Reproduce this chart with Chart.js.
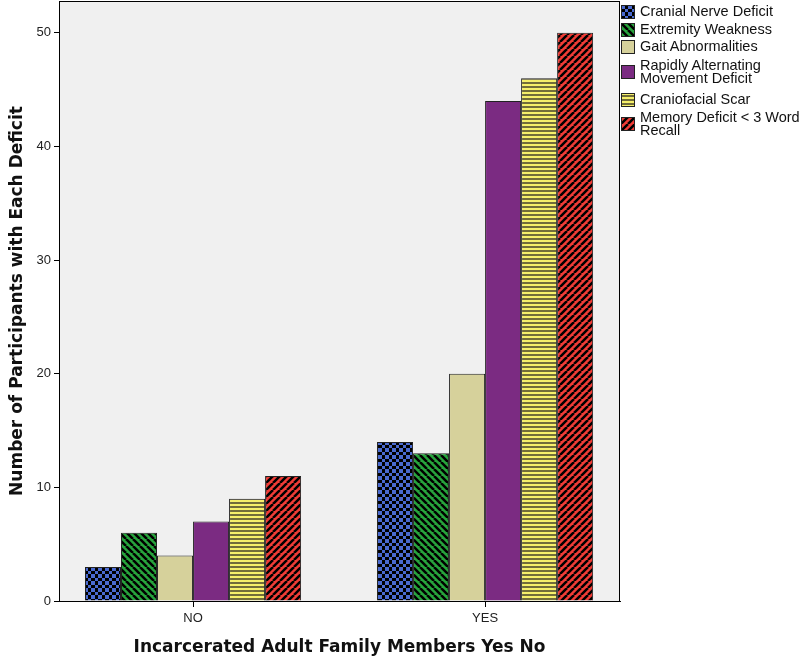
<!DOCTYPE html>
<html>
<head>
<meta charset="utf-8">
<script src="https://cdn.jsdelivr.net/npm/chart.js@4"></script>
<style>
  html, body { margin: 0; padding: 0; background: #fff; }
  #wrap { position: relative; width: 800px; height: 663px; }
  #legend { position: absolute; left: 621px; top: 0; font: 14.5px "Liberation Sans", Arial, sans-serif; color: #111; }
  .item { position: absolute; left: 0; white-space: nowrap; }
  .item canvas { position: absolute; left: 0; }
  .item span { position: absolute; left: 19px; line-height: 13px; }
</style>
</head>
<body>
<div id="wrap">
  <canvas id="chart" width="800" height="663"></canvas>
  <div id="legend"></div>
</div>
<script>
// data
const categories = ['NO', 'YES'];
const seriesNames = ['Cranial Nerve Deficit', 'Extremity Weakness', 'Gait Abnormalities',
  'Rapidly Alternating Movement Deficit', 'Craniofacial Scar', 'Memory Deficit < 3 Word Recall'];
const cranialNerve = [3, 14];
const extremityWeakness = [6, 13];
const gaitAbnormalities = [4, 20];
const rapidAlternating = [7, 44];
const craniofacialScar = [9, 46];
const memoryDeficit = [11, 50];
const yTicks = [0, 10, 20, 30, 40, 50];

const allValues = [cranialNerve, extremityWeakness, gaitAbnormalities, rapidAlternating, craniofacialScar, memoryDeficit];

// legend labels split like the original
const legendLines = [
  ['Cranial Nerve Deficit'],
  ['Extremity Weakness'],
  ['Gait Abnormalities'],
  ['Rapidly Alternating', 'Movement Deficit'],
  ['Craniofacial Scar'],
  ['Memory Deficit < 3 Word', 'Recall']
];

// pattern fills
function makePattern(kind) {
  const c = document.createElement('canvas');
  const g = c.getContext('2d');
  if (kind === 'checker') {
    c.width = 7; c.height = 7;
    g.fillStyle = '#000'; g.fillRect(0, 0, 7, 7);
    g.fillStyle = '#4a6ad0';
    g.fillRect(0, 0, 4, 4); g.fillRect(4, 4, 3, 3);
  } else if (kind === 'down' || kind === 'up') {
    c.width = 7; c.height = 7;
    g.fillStyle = kind === 'down' ? '#27a43c' : '#f03c36';
    g.fillRect(0, 0, 7, 7);
    g.strokeStyle = '#000'; g.lineWidth = 2.5;
    g.beginPath();
    for (let k = -7; k <= 7; k += 7) {
      if (kind === 'down') { g.moveTo(k, 0); g.lineTo(k + 7, 7); }
      else { g.moveTo(k, 7); g.lineTo(k + 7, 0); }
    }
    g.stroke();
  } else if (kind === 'horiz') {
    c.width = 4; c.height = 4;
    g.fillStyle = '#f5ef6a'; g.fillRect(0, 0, 4, 4);
    g.fillStyle = '#716c3a'; g.fillRect(0, 2, 4, 2);
  } else {
    return kind;
  }
  return g.createPattern(c, 'repeat');
}

const fills = [
  makePattern('checker'),
  makePattern('down'),
  '#d6d19b',
  '#7b2b82',
  makePattern('horiz'),
  makePattern('up')
];

const datasets = allValues.map((vals, i) => ({
  label: seriesNames[i],
  data: vals.map((v, j) => ({ x: j, y: v })),
  backgroundColor: fills[i],
  borderColor: '#222',
  borderWidth: 1,
  categoryPercentage: 0.74,
  barPercentage: 1
}));

// plot background + frame
const plotFrame = {
  id: 'plotFrame',
  beforeDraw(chart) {
    const a = chart.chartArea, ctx = chart.ctx;
    ctx.save();
    ctx.fillStyle = '#f0f0f0';
    ctx.fillRect(a.left, a.top, a.right - a.left, a.bottom - a.top);
    ctx.restore();
  },
  afterDraw(chart) {
    const a = chart.chartArea, ctx = chart.ctx;
    ctx.save();
    ctx.strokeStyle = '#000';
    ctx.lineWidth = 1;
    ctx.strokeRect(a.left + 0.5, a.top + 0.5, a.right - a.left - 1, a.bottom - a.top);
    ctx.restore();
  }
};

const font = '"Liberation Sans", Arial, sans-serif';
const titleFont = '"DejaVu Sans", Verdana, sans-serif';

new Chart(document.getElementById('chart'), {
  type: 'bar',
  data: { datasets },
  plugins: [plotFrame],
  options: {
    responsive: false,
    animation: false,
    layout: { padding: { top: 1, right: 180, left: 0, bottom: 0 } },
    plugins: { legend: { display: false }, tooltip: { enabled: false } },
    scales: {
      x: {
        type: 'linear',
        offset: false,
        min: -0.459,
        max: 1.462,
        afterBuildTicks: s => { s.ticks = categories.map((c, i) => ({ value: i })); },
        afterFit: s => { s.height = 62; s.paddingLeft = 0; s.paddingRight = 0; },
        ticks: { callback: v => categories[v], color: '#222', font: { family: font, size: 13 }, padding: 4, maxRotation: 0 },
        grid: { offset: false, drawOnChartArea: false, tickLength: 6, color: '#000' },
        border: { color: '#000' },
        title: { display: true, text: 'Incarcerated Adult Family Members Yes No', color: '#111',
          font: { family: titleFont, size: 17, weight: 'bold' }, padding: { top: 4, bottom: 5 } }
      },
      y: {
        min: 0,
        max: 52.8,
        afterBuildTicks: s => { s.ticks = yTicks.map(v => ({ value: v })); },
        afterFit: s => { s.width = 59; s.paddingTop = 0; s.paddingBottom = 0; },
        ticks: { color: '#222', font: { family: font, size: 13 }, padding: 3 },
        grid: { drawOnChartArea: false, tickLength: 5, color: '#000' },
        border: { color: '#000' },
        title: { display: true, text: 'Number of Participants with Each Deficit', color: '#111',
          font: { family: titleFont, size: 17, weight: 'bold' }, padding: { top: 7, bottom: 0 } }
      }
    }
  }
});

// legend on the right
const legendTops = [5, 23, 40, 59, 93, 111];
const legend = document.getElementById('legend');
legendLines.forEach((lines, i) => {
  const item = document.createElement('div');
  item.className = 'item';
  item.style.top = legendTops[i] + 'px';
  const sw = document.createElement('canvas');
  sw.width = 14; sw.height = 14;
  const h = lines.length * 13;
  sw.style.top = Math.round(h / 2 - 7) + 'px';
  const g = sw.getContext('2d');
  g.fillStyle = fills[i];
  g.fillRect(0, 0, 14, 14);
  g.strokeStyle = '#222';
  g.strokeRect(0.5, 0.5, 13, 13);
  item.appendChild(sw);
  const span = document.createElement('span');
  span.innerHTML = lines.map(t => t.replace(/</g, '&lt;')).join('<br>');
  item.appendChild(span);
  legend.appendChild(item);
});
</script>
</body>
</html>
